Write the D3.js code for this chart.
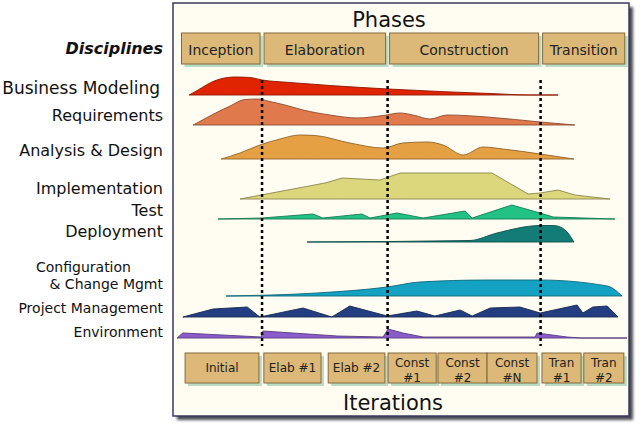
<!DOCTYPE html>
<html>
<head>
<meta charset="utf-8">
<script src="https://cdn.jsdelivr.net/npm/d3@7"></script>
<style>
  body { margin: 0; background: #fff; }
  svg { display: block; font-family: "DejaVu Sans", Verdana, sans-serif; }
</style>
</head>
<body>
<svg id="chart" width="640" height="442"></svg>
<script>
// timeline is 0..100 (% of project duration), effort is 0..100
const phases = ["Inception", "Elaboration", "Construction", "Transition"];
const phaseBounds = [1, 18.9, 46.8, 80.8, 99.5];

const iterations = [["Initial"], ["Elab #1"], ["Elab #2"], ["Const", "#1"], ["Const", "#2"],
  ["Const", "#N"], ["Tran", "#1"], ["Tran", "#2"]];
const iterStart = [1.8, 19.3, 33.6, 46.9, 58.0, 68.9, 81.1, 90.4];
const iterEnd = [18.2, 32.0, 46.2, 57.6, 68.9, 80.0, 89.8, 99.3];

const disciplines = [["Business Modeling"], ["Requirements"], ["Analysis & Design"],
  ["Implementation"], ["Test"], ["Deployment"], ["Configuration", "& Change Mgmt"],
  ["Project Management"], ["Environment"]];

const businessModeling = [[2.7, 0], [4.7, 20], [6.9, 44], [9.6, 64], [12.9, 72], [16.2, 70],
  [18.9, 60], [25.1, 50], [34, 38], [46.9, 24], [58.4, 14], [69.6, 6], [78.4, 0], [84.7, 0]];
const requirements = [[3.6, 0], [7.3, 36], [11.8, 76], [15.1, 102], [18, 104], [20.2, 96],
  [24, 80], [28, 60], [34, 40], [40, 28], [45.8, 38], [49.6, 48], [52.9, 38], [56.2, 24],
  [60, 40], [68.9, 32], [80.7, 12], [88.4, 0]];
const analysisDesign = [[9.8, 0], [14, 24], [18.4, 56], [22.9, 80], [27.3, 96], [30.7, 94],
  [38.4, 64], [45.8, 44], [50.2, 64], [55.6, 68], [59.1, 56], [63.6, 16], [68, 48],
  [72.4, 40], [80.7, 20], [88.2, 0]];
const implementation = [[14, 0], [32.9, 64], [36.7, 84], [45.1, 76], [49.6, 104], [70, 104],
  [78, 20], [80.7, 24], [84.7, 36], [88.4, 16], [96.2, 0]];
const test = [[9.1, 0], [18.9, 4], [30.2, 20], [32.4, 4], [41.1, 20], [42.9, 4], [48.9, 24],
  [54.7, 4], [64, 32], [65.6, 4], [74.4, 56], [80.7, 24], [83.6, 8], [97.3, 0]];
const deployment = [[28.9, 0], [65.1, 6], [71.1, 36], [80.7, 66], [83.6, 66], [85.6, 56],
  [86.7, 40], [88.2, 0]];
const configuration = [[10.9, 0], [31.1, 12], [46.7, 36], [54, 56], [68.9, 64], [80.7, 64],
  [95.6, 40], [98.9, 0]];
const projectMgmt = [[1.3, 0], [8, 32], [15.6, 40], [18.4, 0], [28, 36], [34.4, 0], [38.4, 44],
  [46.7, 4], [53.3, 24], [57.3, 4], [62.9, 28], [65.6, 4], [69.6, 36], [76.2, 40], [80.7, 16],
  [88.9, 48], [90.2, 16], [92.4, 40], [95.6, 44], [98, 0]];
const environment = [[0, 0], [1.3, 20], [18.7, 4], [19.1, 28], [35.6, 8], [45.8, 4], [46.9, 36],
  [50.2, 20], [54.7, 4], [79.6, 4], [80, 20], [86.7, 4], [89.6, 0], [100, 0]];

const profiles = [businessModeling, requirements, analysisDesign, implementation, test,
  deployment, configuration, projectMgmt, environment];

// layout & style
const rowBase = [95, 125, 159, 199, 219, 242, 296, 317, 338];
const labelY = [[88], [115], [150], [188], [210], [231], [267, 284], [308], [332]];
const labelSize = [17, 16, 16, 16, 16, 16, 14, 14, 14];
const rowColor = ["#e02400", "#e07a4c", "#e6a044", "#dcd67c", "#22c284", "#137c77",
  "#14a2c2", "#233f82", "#8a5ccc"];
const smooth = [true, true, true, false, false, true, true, false, false];

const svg = d3.select("#chart");
const x = d3.scaleLinear().domain([0, 100]).range([177, 627]);
const h = d3.scaleLinear().domain([0, 100]).range([0, 25]);

const defs = svg.append("defs");
defs.append("filter").attr("id", "blur")
  .append("feGaussianBlur").attr("stdDeviation", 1.5);

// frame
svg.append("rect").attr("x", 177).attr("y", 7).attr("width", 456).attr("height", 413)
  .attr("fill", "#4a4a52").attr("filter", "url(#blur)");
svg.append("rect").attr("x", 173).attr("y", 3).attr("width", 456).attr("height", 413)
  .attr("fill", "#fffcf1").attr("stroke", "#3a3a5c").attr("stroke-width", 1.5);

svg.append("text").attr("x", 389).attr("y", 27).attr("text-anchor", "middle")
  .attr("font-size", 21).attr("fill", "#111").text("Phases");
svg.append("text").attr("x", 393).attr("y", 410).attr("text-anchor", "middle")
  .attr("font-size", 21).attr("fill", "#111").text("Iterations");

function tanBox(g, x0, x1, y0, y1) {
  g.append("rect").attr("x", x0 + 3).attr("y", y0 + 3).attr("width", x1 - x0).attr("height", y1 - y0)
    .attr("fill", "#b8dcc4");
  g.append("rect").attr("x", x0).attr("y", y0).attr("width", x1 - x0).attr("height", y1 - y0)
    .attr("fill", "#dcb978").attr("stroke", "#86683c").attr("stroke-width", 1);
}

// phase boxes
const phaseG = svg.append("g");
phases.forEach((p, i) => {
  const x0 = x(phaseBounds[i]) + (i > 0 ? 2 : 0);
  const x1 = x(phaseBounds[i + 1]) - (i < phases.length - 1 ? 2 : 0);
  tanBox(phaseG, x0, x1, 33, 64);
  phaseG.append("text").attr("x", (x0 + x1) / 2).attr("y", 54.5).attr("text-anchor", "middle")
    .attr("font-size", 14).attr("fill", "#222").text(p);
});

// iteration boxes
const iterG = svg.append("g");
iterations.forEach((lines, i) => {
  const x0 = x(iterStart[i]), x1 = x(iterEnd[i]);
  tanBox(iterG, x0, x1, 353, 383);
  lines.forEach((t, j) => {
    iterG.append("text").attr("x", (x0 + x1) / 2)
      .attr("y", lines.length === 1 ? 372 : 367 + j * 14.5)
      .attr("text-anchor", "middle").attr("font-size", 12).attr("fill", "#222").text(t);
  });
});

// discipline humps
const humps = svg.append("g");
profiles.forEach((pts, i) => {
  const area = d3.area()
    .x(d => x(d[0]))
    .y0(rowBase[i])
    .y1(d => rowBase[i] - h(d[1]))
    .curve(smooth[i] ? d3.curveMonotoneX : d3.curveLinear);
  humps.append("path").attr("d", area(pts))
    .attr("fill", rowColor[i])
    .attr("stroke", d3.color(rowColor[i]).darker(1.3))
    .attr("stroke-width", 0.9)
    .attr("stroke-linejoin", "round");
});

// phase milestones
svg.append("g").selectAll("line")
  .data(phaseBounds.slice(1, -1))
  .join("line")
  .attr("x1", d => x(d)).attr("x2", d => x(d))
  .attr("y1", 80).attr("y2", 346)
  .attr("stroke", "#000").attr("stroke-width", 2.5).attr("stroke-dasharray", "3,3");

// labels
svg.append("text").attr("x", 163).attr("y", 48).attr("dy", "0.35em").attr("text-anchor", "end")
  .attr("font-size", 16).attr("font-weight", "bold").attr("font-style", "italic")
  .attr("fill", "#111").text("Disciplines");

const lab = svg.append("g").attr("fill", "#111");
disciplines.forEach((lines, i) => {
  lines.forEach((t, j) => {
    const sub = lines.length > 1 && j === 0;
    lab.append("text")
      .attr("x", sub ? 36 : (i === 0 ? 160 : 163))
      .attr("y", labelY[i][j]).attr("dy", "0.35em")
      .attr("text-anchor", sub ? "start" : "end")
      .attr("font-size", labelSize[i]).text(t);
  });
});
</script>
</body>
</html>
